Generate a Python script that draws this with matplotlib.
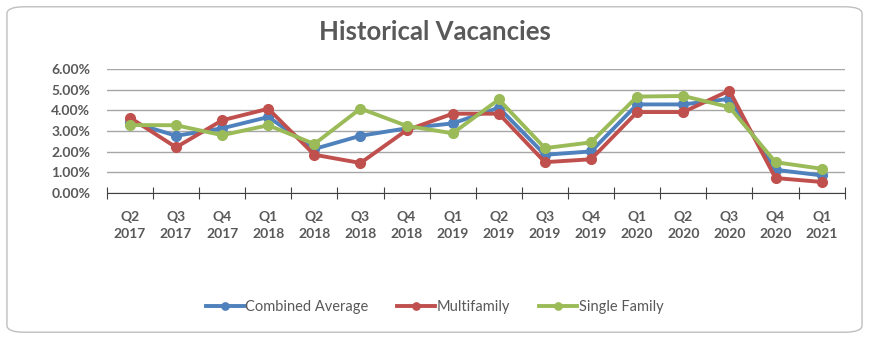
import numpy as np
import matplotlib.pyplot as plt
from matplotlib.patches import FancyBboxPatch

# Квартальные подписи
quarters = ["Q2\n2017", "Q3\n2017", "Q4\n2017", "Q1\n2018", "Q2\n2018", "Q3\n2018", "Q4\n2018", "Q1\n2019",
            "Q2\n2019", "Q3\n2019", "Q4\n2019", "Q1\n2020", "Q2\n2020", "Q3\n2020", "Q4\n2020", "Q1\n2021"]

# Значения вакантности, %
combined = [3.45, 2.77, 3.13, 3.68, 2.13, 2.77, 3.13, 3.37, 4.13, 1.85, 2.01, 4.29, 4.29, 4.56, 1.12, 0.85]
multifamily = [3.65, 2.21, 3.52, 4.08, 1.85, 1.45, 3.04, 3.84, 3.84, 1.49, 1.63, 3.92, 3.92, 4.96, 0.72, 0.53]
single_family = [3.29, 3.28, 2.80, 3.28, 2.37, 4.09, 3.25, 2.89, 4.53, 2.17, 2.45, 4.67, 4.70, 4.16, 1.49, 1.17]

plt.rcParams['font.family'] = ['Lato', 'DejaVu Sans']
text_color = '#595959'

fig = plt.figure(figsize=(8.69, 3.39), dpi=100)
# Рамка со скруглёнными углами вокруг всей диаграммы
fig.patches.append(FancyBboxPatch((0.008, 0.02), 0.984, 0.96, boxstyle="round,pad=0,rounding_size=0.02",
                                  transform=fig.transFigure, fill=False, edgecolor='#bfbfbf', linewidth=1))

ax = fig.add_axes([0.123, 0.431, 0.849, 0.365])
x = np.arange(len(quarters))
ax.plot(x, combined, color='#4F81BD', linewidth=2.8, marker='o', markersize=7, label='Combined Average')
ax.plot(x, multifamily, color='#C0504D', linewidth=2.8, marker='o', markersize=7, label='Multifamily')
ax.plot(x, single_family, color='#9BBB59', linewidth=2.8, marker='o', markersize=7, label='Single Family')

ax.set_xlim(-0.5, len(quarters) - 0.5)
ax.set_ylim(0, 6)
ax.set_yticks(np.arange(0, 7, 1))
ax.set_yticklabels(["%.2f%%" % v for v in range(7)], fontsize=10, fontweight='bold', color=text_color)
ax.yaxis.grid(True, color='#a6a6a6', linewidth=1)
ax.set_axisbelow(True)
ax.tick_params(axis='y', length=0, pad=12)

ax.set_xticks(np.arange(-0.5, len(quarters), 1))
ax.set_xticklabels([])
ax.set_xticks(x, minor=True)
ax.set_xticklabels(quarters, minor=True, fontsize=10, fontweight='bold', color=text_color, linespacing=1.55)
ax.tick_params(axis='x', which='major', direction='inout', length=9, color='#404040')
ax.tick_params(axis='x', which='minor', length=0, pad=13)

for s in ['top', 'right', 'left']:
    ax.spines[s].set_visible(False)
ax.spines['bottom'].set_color('#404040')

fig.text(0.5, 0.905, "Historical Vacancies", ha='center', va='center', fontsize=18.5, fontweight='bold', color=text_color)
fig.legend(loc='center', bbox_to_anchor=(0.5, 0.095), ncol=3, frameon=False, fontsize=10.5, markerscale=0.75,
           labelcolor=text_color, handlelength=2.6, columnspacing=2.0, handletextpad=0.1)

plt.savefig('out.png', dpi=100)
